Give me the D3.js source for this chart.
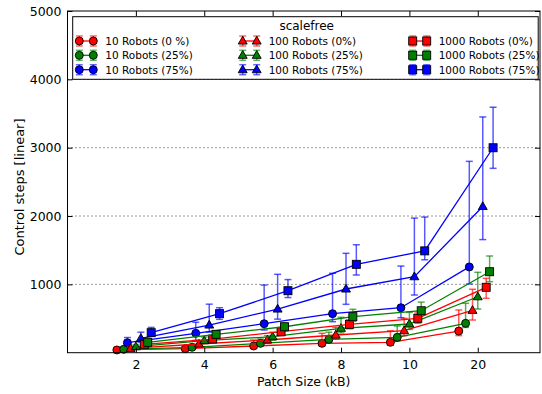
<!DOCTYPE html>
<html><head><meta charset="utf-8">
<script src="https://cdn.jsdelivr.net/npm/d3@7/dist/d3.min.js"></script>
<style>body{margin:0;background:#fff}svg{display:block;font-family:"DejaVu Sans",sans-serif}</style>
</head><body><svg id="c" width="542" height="394"></svg>
<script>
const categories = ["2","4","6","8","10","20"];
const yTicks = [1000,2000,3000,4000,5000];
const legendTitle = "scalefree";
const seriesNames = ["10 Robots (0 %)","10 Robots (25%)","10 Robots (75%)",
  "100 Robots (0%)","100 Robots (25%)","100 Robots (75%)",
  "1000 Robots (0%)","1000 Robots (25%)","1000 Robots (75%)"];
const seriesColors = ["#ff0000","#008000","#0000ff","#ff0000","#008000","#0000ff","#ff0000","#008000","#0000ff"];
const seriesShapes = ["circle","circle","circle","triangle","triangle","triangle","square","square","square"];
const seriesOffsets = [-0.278,-0.178,-0.124,-0.077,0,0.073,0.123,0.173,0.224];
// mean values
const r10_0   = [40, 59, 98, 137, 152, 317];
const r10_25  = [50, 79, 137, 196, 225, 430];
const r10_75  = [146, 284, 424, 571, 658, 1255];
const r100_0  = [64, 127, 186, 259, 322, 620];
const r100_25 = [88, 176, 234, 357, 420, 819];
const r100_75 = [210, 405, 639, 932, 1112, 2140];
const r1000_0  = [123, 200, 307, 415, 503, 957];
const r1000_25 = [152, 269, 380, 527, 614, 1185];
const r1000_75 = [293, 571, 907, 1293, 1490, 2999];
// error bar lows
const lo10_0   = [25, 40, 70, 100, 110, 250];
const lo10_25  = [35, 60, 105, 150, 175, 370];
const lo10_75  = [100, 180, 332, 454, 512, 1005];
const lo100_0  = [45, 95, 140, 200, 250, 478];
const lo100_25 = [65, 140, 185, 290, 340, 639];
const lo100_75 = [150, 300, 491, 708, 844, 1655];
const lo1000_0  = [95, 160, 250, 350, 430, 796];
const lo1000_25 = [120, 225, 330, 460, 560, 1039];
const lo1000_75 = [250, 488, 807, 1137, 1360, 2698];
// error bar highs
const hi10_0   = [60, 90, 186, 284, 322, 625];
const hi10_25  = [70, 115, 200, 300, 391, 723];
const hi10_75  = [222, 445, 990, 1162, 1268, 2800];
const hi100_0  = [90, 170, 250, 371, 503, 928];
const hi100_25 = [115, 230, 300, 518, 591, 1176];
const hi100_75 = [300, 710, 1147, 1454, 1970, 3450];
const hi1000_0  = [150, 245, 370, 480, 580, 1088];
const hi1000_25 = [185, 320, 430, 635, 740, 1415];
const hi1000_75 = [370, 658, 1070, 1580, 1985, 3592];

const means = [r10_0,r10_25,r10_75,r100_0,r100_25,r100_75,r1000_0,r1000_25,r1000_75];
const lows = [lo10_0,lo10_25,lo10_75,lo100_0,lo100_25,lo100_75,lo1000_0,lo1000_25,lo1000_75];
const highs = [hi10_0,hi10_25,hi10_75,hi100_0,hi100_25,hi100_75,hi1000_0,hi1000_25,hi1000_75];

const svg = d3.select("#c");
const L = 67.5, R = 540, T = 11, B = 352.7;
const x = d3.scaleLinear().domain([-1, 5.91]).range([L, R]);
const y = d3.scaleLinear().domain([0, 5000]).range([B, T]);

// grid
svg.append("g").selectAll("line").data(yTicks.slice(0,4)).join("line")
  .attr("x1", L).attr("x2", R).attr("y1", d=>y(d)).attr("y2", d=>y(d))
  .attr("stroke", "#000").attr("stroke-width", 1).attr("stroke-dasharray", "1,3").attr("opacity", 0.8);

function marker(g, shape, cx, cy, color, s) {
  if (shape === "circle") {
    g.append("circle").attr("cx", cx).attr("cy", cy).attr("r", 4*s)
      .attr("fill", color).attr("stroke", "#000").attr("stroke-width", 0.9);
  } else if (shape === "square") {
    const h = 4*s;
    g.append("rect").attr("x", cx-h).attr("y", cy-h).attr("width", 2*h).attr("height", 2*h)
      .attr("fill", color).attr("stroke", "#000").attr("stroke-width", 0.9);
  } else {
    const h = 4.7*s;
    g.append("path").attr("d", `M${cx},${cy-h}L${cx+h*0.95},${cy+h*0.65}L${cx-h*0.95},${cy+h*0.65}Z`)
      .attr("fill", color).attr("stroke", "#000").attr("stroke-width", 0.9);
  }
}

const plot = svg.append("g");
means.forEach((vals, si) => {
  const g = plot.append("g");
  const col = seriesColors[si];
  const xs = vals.map((v,i)=>x(i + seriesOffsets[si]));
  vals.forEach((v,i)=>{
    const cx = xs[i];
    const eg = g.append("g").attr("stroke", col).attr("stroke-opacity", 0.65).attr("stroke-width", 1.5);
    eg.append("line").attr("x1", cx).attr("x2", cx).attr("y1", y(lows[si][i])).attr("y2", y(highs[si][i]));
    eg.append("line").attr("x1", cx-3.5).attr("x2", cx+3.5).attr("y1", y(lows[si][i])).attr("y2", y(lows[si][i]));
    eg.append("line").attr("x1", cx-3.5).attr("x2", cx+3.5).attr("y1", y(highs[si][i])).attr("y2", y(highs[si][i]));
  });
  const line = d3.line().x((d,i)=>xs[i]).y(d=>y(d));
  g.append("path").datum(vals).attr("d", line).attr("fill","none").attr("stroke", col).attr("stroke-width", 1.3);
  vals.forEach((v,i)=> marker(g, seriesShapes[si], xs[i], y(v), col, 1));
});

// axes
const fs = "12.5px";
const xb = svg.append("g").attr("transform", `translate(0,${B})`)
  .call(d3.axisBottom(x).tickValues(d3.range(categories.length)).tickFormat(i=>categories[i]).tickSizeInner(-5).tickSizeOuter(0).tickPadding(7));
const xt = svg.append("g").attr("transform", `translate(0,${T})`)
  .call(d3.axisTop(x).tickValues(d3.range(categories.length)).tickFormat("").tickSizeInner(-5).tickSizeOuter(0));
const yl = svg.append("g").attr("transform", `translate(${L},0)`)
  .call(d3.axisLeft(y).tickValues(yTicks).tickFormat(d3.format("d")).tickSizeInner(-5).tickSizeOuter(0).tickPadding(6));
const yr = svg.append("g").attr("transform", `translate(${R},0)`)
  .call(d3.axisRight(y).tickValues(yTicks).tickFormat("").tickSizeInner(-5).tickSizeOuter(0));
[xb,xt,yl,yr].forEach(a=>{ a.select(".domain").remove(); a.selectAll("text").attr("font-size", fs).attr("fill","#000").attr("font-family","DejaVu Sans"); a.selectAll("line").attr("stroke","#000"); });
svg.append("rect").attr("x", L).attr("y", T).attr("width", R-L).attr("height", B-T).attr("fill","none").attr("stroke","#000").attr("stroke-width",1);

svg.append("text").attr("x", (L+R)/2).attr("y", 386).attr("text-anchor","middle").attr("font-size", "12.5px").text("Patch Size (kB)");
svg.append("text").attr("transform", `translate(23.5,187) rotate(-90)`).attr("text-anchor","middle").attr("font-size", "13px").text("Control steps [linear]");

// legend
const lg = svg.append("g");
lg.append("rect").attr("x", 72.7).attr("y", 16.7).attr("width", 465.5).attr("height", 62.6)
  .attr("fill","#fff").attr("stroke","#000").attr("stroke-width",1);
lg.append("text").attr("x", 306.7).attr("y", 30).attr("text-anchor","middle").attr("font-size","12px").text(legendTitle);
const colX = [79.3, 242.7, 412.7];
const rowY = [41, 55.3, 69.7];
seriesNames.forEach((name, si) => {
  const c = Math.floor(si/3), r = si%3;
  const x0 = colX[c], x1 = x0 + 14, yy = rowY[r];
  const col = seriesColors[si];
  const g = lg.append("g");
  [x0,x1].forEach(cx=>{
    const eg = g.append("g").attr("stroke", col).attr("stroke-opacity", 0.6).attr("stroke-width", 1.5);
    eg.append("line").attr("x1", cx).attr("x2", cx).attr("y1", yy-5).attr("y2", yy+5);
    eg.append("line").attr("x1", cx-3.5).attr("x2", cx+3.5).attr("y1", yy-5).attr("y2", yy-5);
    eg.append("line").attr("x1", cx-3.5).attr("x2", cx+3.5).attr("y1", yy+5).attr("y2", yy+5);
  });
  g.append("line").attr("x1", x0).attr("x2", x1).attr("y1", yy).attr("y2", yy).attr("stroke", col).attr("stroke-width", 1.3);
  marker(g, seriesShapes[si], x0, yy, col, 1);
  marker(g, seriesShapes[si], x1, yy, col, 1);
  g.append("text").attr("x", x1 + 12).attr("y", yy + 3.8).attr("font-size","10.5px").text(name);
});
</script></body></html>
